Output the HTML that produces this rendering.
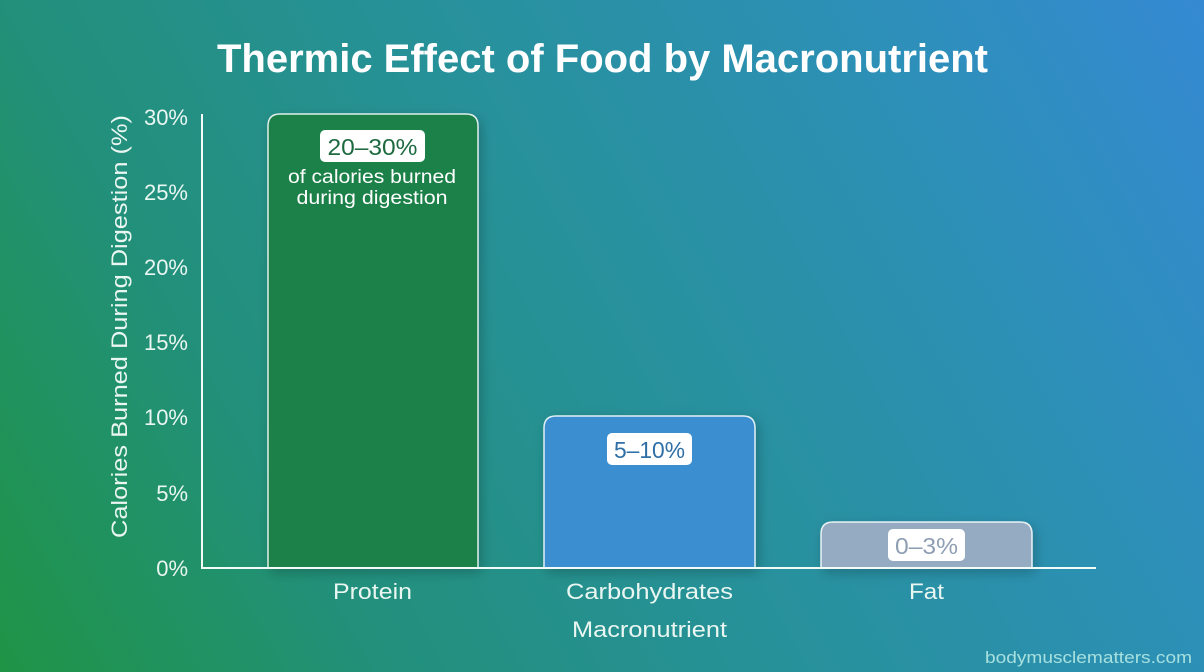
<!DOCTYPE html>
<html>
<head>
<meta charset="utf-8">
<style>
  html, body { margin:0; padding:0; }
  body { width:1204px; height:672px; overflow:hidden; }
  svg { display:block; }
  text { font-family: "Liberation Sans", "DejaVu Sans", sans-serif; }
</style>
</head>
<body>
<svg width="1204" height="672" viewBox="0 0 1204 672" xmlns="http://www.w3.org/2000/svg">
  <defs>
    <linearGradient id="bg" gradientUnits="userSpaceOnUse" x1="0" y1="672" x2="1204" y2="0">
      <stop offset="0" stop-color="#1f9446"/>
      <stop offset="0.24" stop-color="#22907a"/>
      <stop offset="0.5" stop-color="#27919a"/>
      <stop offset="0.78" stop-color="#2d90b8"/>
      <stop offset="1" stop-color="#3589d2"/>
    </linearGradient>
    <filter id="sh" x="-20%" y="-20%" width="140%" height="140%">
      <feDropShadow dx="3" dy="4" stdDeviation="6" flood-color="#000" flood-opacity="0.22"/>
    </filter>
  </defs>

  <rect x="0" y="0" width="1204" height="672" fill="url(#bg)"/>

  <!-- Title -->
  <text x="602.5" y="72" text-anchor="middle" font-size="40" font-weight="bold" fill="#ffffff" textLength="771" lengthAdjust="spacingAndGlyphs">Thermic Effect of Food by Macronutrient</text>

  <!-- Bars -->
  <g filter="url(#sh)">
    <path d="M268,568 V126 Q268,114 280,114 H466 Q478,114 478,126 V568 Z" fill="#1e8148" stroke="rgba(255,255,255,0.85)" stroke-width="1.5"/>
    <path d="M544,568 V428 Q544,416 556,416 H743 Q755,416 755,428 V568 Z" fill="#3a8ecf" stroke="rgba(255,255,255,0.85)" stroke-width="1.5"/>
    <path d="M821,568 V534 Q821,522 833,522 H1020 Q1032,522 1032,534 V568 Z" fill="#95abc2" stroke="rgba(255,255,255,0.85)" stroke-width="1.5"/>
  </g>

  <!-- Axes -->
  <line x1="202" y1="114" x2="202" y2="568" stroke="#f2fbf7" stroke-width="2"/>
  <line x1="201" y1="568" x2="1096" y2="568" stroke="#f2fbf7" stroke-width="2"/>

  <!-- Y tick labels -->
  <g font-size="22" fill="#eaf6f1" text-anchor="end">
    <text x="188" y="125">30%</text>
    <text x="188" y="200">25%</text>
    <text x="188" y="275">20%</text>
    <text x="188" y="350">15%</text>
    <text x="188" y="425">10%</text>
    <text x="188" y="501">5%</text>
    <text x="188" y="576">0%</text>
  </g>

  <!-- Y axis title -->
  <text transform="translate(127,326.5) rotate(-90)" text-anchor="middle" font-size="22" fill="#eaf6f1" textLength="423" lengthAdjust="spacingAndGlyphs">Calories Burned During Digestion (%)</text>

  <!-- Bar labels -->
  <rect x="320" y="130" width="105" height="32" rx="5" fill="#ffffff"/>
  <text x="372.5" y="155" text-anchor="middle" font-size="23" fill="#1e6a40" textLength="90" lengthAdjust="spacingAndGlyphs">20–30%</text>
  <text x="372" y="183" text-anchor="middle" font-size="19" fill="#ffffff" textLength="168" lengthAdjust="spacingAndGlyphs">of calories burned</text>
  <text x="372" y="204" text-anchor="middle" font-size="19" fill="#ffffff" textLength="151" lengthAdjust="spacingAndGlyphs">during digestion</text>

  <rect x="607" y="433" width="85" height="32" rx="5" fill="#ffffff"/>
  <text x="649.5" y="458" text-anchor="middle" font-size="23" fill="#2f6fa6" textLength="71" lengthAdjust="spacingAndGlyphs">5–10%</text>

  <rect x="888" y="529" width="77" height="32" rx="5" fill="#ffffff"/>
  <text x="926.5" y="554" text-anchor="middle" font-size="23" fill="#8e9fb3" textLength="63" lengthAdjust="spacingAndGlyphs">0–3%</text>

  <!-- X tick labels -->
  <g font-size="22" fill="#eaf6f1" text-anchor="middle">
    <text x="372.5" y="599" textLength="79" lengthAdjust="spacingAndGlyphs">Protein</text>
    <text x="649.5" y="599" textLength="167" lengthAdjust="spacingAndGlyphs">Carbohydrates</text>
    <text x="926.5" y="599" textLength="35" lengthAdjust="spacingAndGlyphs">Fat</text>
    <text x="649.5" y="637" textLength="155" lengthAdjust="spacingAndGlyphs">Macronutrient</text>
  </g>

  <!-- Watermark -->
  <text x="1192" y="663" text-anchor="end" font-size="17" fill="#a6e0df" textLength="207" lengthAdjust="spacingAndGlyphs">bodymusclematters.com</text>
</svg>
</body>
</html>
